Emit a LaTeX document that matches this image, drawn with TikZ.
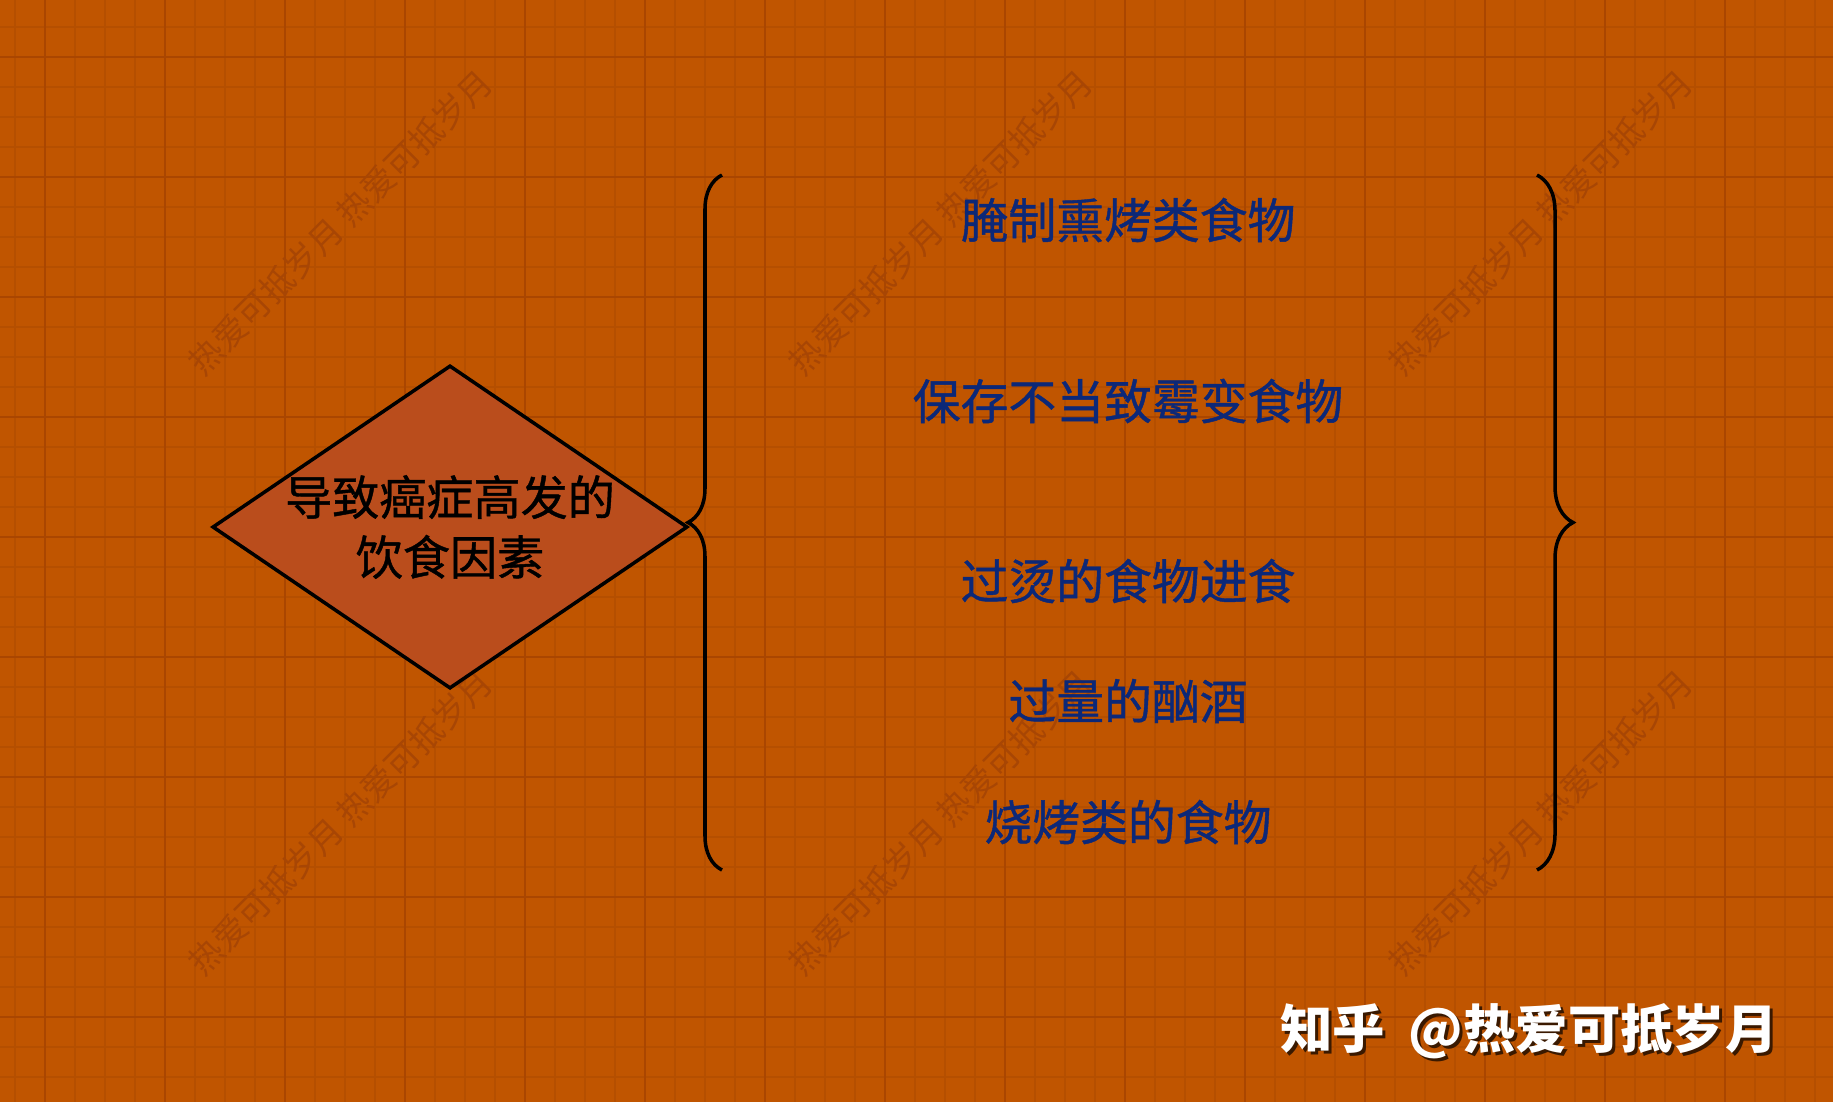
\documentclass[tikz,border=0pt]{standalone}
\usepackage{fontspec}
\usetikzlibrary{shapes.geometric, positioning, decorations.pathreplacing}
\newfontfamily\cjk{Noto Sans CJK SC}[FakeBold=0.9]
\newfontfamily\cjksign{Noto Sans CJK SC}
\definecolor{paperorange}{HTML}{C05500}
\definecolor{gridminor}{HTML}{B54F00}
\definecolor{gridmajor}{HTML}{AA4600}
\definecolor{diamondred}{HTML}{BA4D1C}
\definecolor{factorblue}{HTML}{0C2878}
\definecolor{markbrown}{HTML}{A84604}

\begin{document}
\begin{tikzpicture}[
    x=0.01cm, y=-0.01cm,
    factor/.style={font={\cjk\fontsize{13.6}{16}\selectfont}, text=factorblue, inner sep=0pt},
    bracket/.style={decorate, decoration={brace, amplitude=#1}, line width=1pt, black},
    watermark/.style={font={\cjksign\fontsize{9.6}{11}\selectfont}, text=markbrown, rotate=45, inner sep=0pt},
    signature/.style={font={\cjksign\bfseries\fontsize{14.9}{18}\selectfont}, inner sep=0pt},
    every node/.style={align=center}
  ]
  % Paper and grid
  \fill[paperorange] (0,0) rectangle (1833,1102);
  \useasboundingbox (0,0) rectangle (1833,1102);
  \foreach \gx in {15,45,...,1815} \draw[gridminor, line width=0.55pt] (\gx,0) -- (\gx,1102);
  \foreach \gy in {27,57,...,1077} \draw[gridminor, line width=0.55pt] (0,\gy) -- (1833,\gy);
  \foreach \gx in {45,165,...,1725} \draw[gridmajor, line width=0.8pt] (\gx,0) -- (\gx,1102);
  \foreach \gy in {57,177,...,1017} \draw[gridmajor, line width=0.8pt] (0,\gy) -- (1833,\gy);

  % Watermarks
  \foreach \wx/\wy [count=\i] in {340/222, 940/222, 1540/222, 340/822, 940/822, 1540/822}
    \node[watermark] (mark\i) at (\wx,\wy) {热爱可抵岁月 热爱可抵岁月};

  % Diamond
  \node[draw, diamond, line width=1pt, fill=diamondred, minimum width=4.75cm, minimum height=3.23cm, inner sep=0pt] (cause) at (450,527) {};
  \node[font={\cjk\fontsize{13.4}{17}\selectfont}, inner sep=0pt] (causetext) at (cause.center) {导致癌症高发的\\饮食因素};

  % Factors
  \node[factor] (cured) at (1128,220) {腌制熏烤类食物};
  \node[factor] (mouldy) at (1128,401) {保存不当致霉变食物};
  \node[factor] (scalding) at (1128,581) {过烫的食物进食};
  \node[factor] (alcohol) at (1128,701) {过量的酗酒};
  \node[factor] (grilled) at (1128,822) {烧烤类的食物};

  % Braces
  \coordinate (ltop) at (722,175);
  \coordinate (lbot) at (722,870);
  \coordinate (rtop) at (1537,175);
  \coordinate (rbot) at (1537,870);
  \draw[bracket=0.34cm] (lbot) -- (ltop);
  \draw[bracket=0.36cm] (rtop) -- (rbot);

  % Signature
  \node[signature, text=black!70!paperorange] (creditshade) at (1532,1034) {知乎\hspace{0.45em}@热爱可抵岁月};
  \node[signature, text=white] (credit) at (1529,1031) {知乎\hspace{0.45em}@热爱可抵岁月};
\end{tikzpicture}
\end{document}
